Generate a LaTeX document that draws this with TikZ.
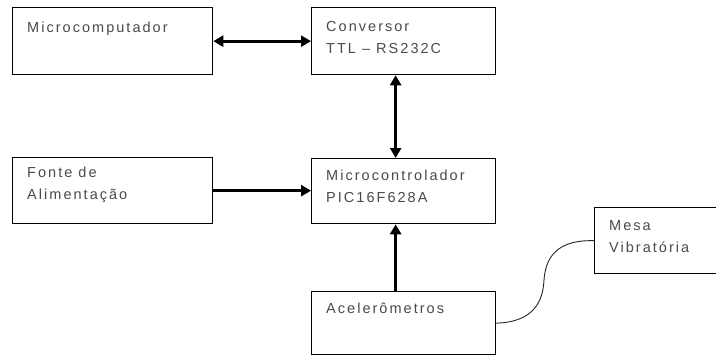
\documentclass[tikz,border=0pt]{standalone}
\usepackage{fontspec}
\setmainfont[LetterSpace=14]{Liberation Sans}
\usetikzlibrary{arrows.meta}
\definecolor{txtgray}{HTML}{4a4a4a}
\newcommand{\twoln}[2]{\begin{tabular}[t]{@{}l@{}}#1\\#2\end{tabular}}
\tikzset{
  box/.style={draw=black, line width=1.3pt, rectangle, anchor=north west, inner sep=0pt},
  lbl/.style={anchor=base west, inner sep=0pt, text=txtgray,
    font=\fontsize{14.5}{22.5}\selectfont},
  bigarrow/.style={line width=3pt, -{Triangle[length=10pt,width=11pt]}},
  bigdarrow/.style={line width=3pt, {Triangle[length=10pt,width=11pt]}-{Triangle[length=10pt,width=11pt]}},
  wire/.style={draw=black!85, line width=0.9pt}
}
\begin{document}
\begin{tikzpicture}[x=1pt,y=-1pt]
\useasboundingbox (0,0) rectangle (716,356);
\fill[white] (0,0) rectangle (716,356);
% boxes
\node[box, minimum width=200pt, minimum height=67pt] (mc) at (12,7) {};
\node[box, minimum width=184pt, minimum height=67pt] (conv) at (311,7) {};
\node[box, minimum width=200pt, minimum height=66pt] (fonte) at (12,157) {};
\node[box, minimum width=184pt, minimum height=65pt] (mcu) at (311,158) {};
\node[box, minimum width=184pt, minimum height=63pt] (acel) at (311,291) {};
\node[box, minimum width=130pt, minimum height=66pt] (mesa) at (594,207) {};
% labels
\node[lbl] (mct) at ([xshift=15pt,yshift=-25pt]mc.north west) {Microcomputador};
\node[lbl] (convt) at ([xshift=15pt,yshift=-24pt]conv.north west) {\twoln{Conversor}{TTL – RS232C}};
\node[lbl] (fontet) at ([xshift=15pt,yshift=-20pt]fonte.north west) {\twoln{Fonte de}{Alimentação}};
\node[lbl] (mcut) at ([xshift=15pt,yshift=-22pt]mcu.north west) {\twoln{Microcontrolador}{PIC16F628A}};
\node[lbl] (acelt) at ([xshift=15pt,yshift=-22pt]acel.north west) {Acelerômetros};
\node[lbl] (mesat) at ([xshift=15pt,yshift=-23pt]mesa.north west) {\twoln{Mesa}{Vibratória}};
% connectors
\draw[bigdarrow] (mc.east) -- (conv.west);
\draw[bigdarrow] ([xshift=-8pt]conv.south) -- ([xshift=-8pt]mcu.north);
\draw[bigarrow] (fonte.east) -- (fonte.east -| mcu.west);
\draw[bigarrow] ([xshift=-8pt]acel.north) -- ([xshift=-8pt]mcu.south);
\draw[wire] (acel.east) .. controls (535,322) and (543,300) .. (544,280)
  .. controls (546,250) and (565,240) .. (mesa.west);
\end{tikzpicture}
\end{document}
